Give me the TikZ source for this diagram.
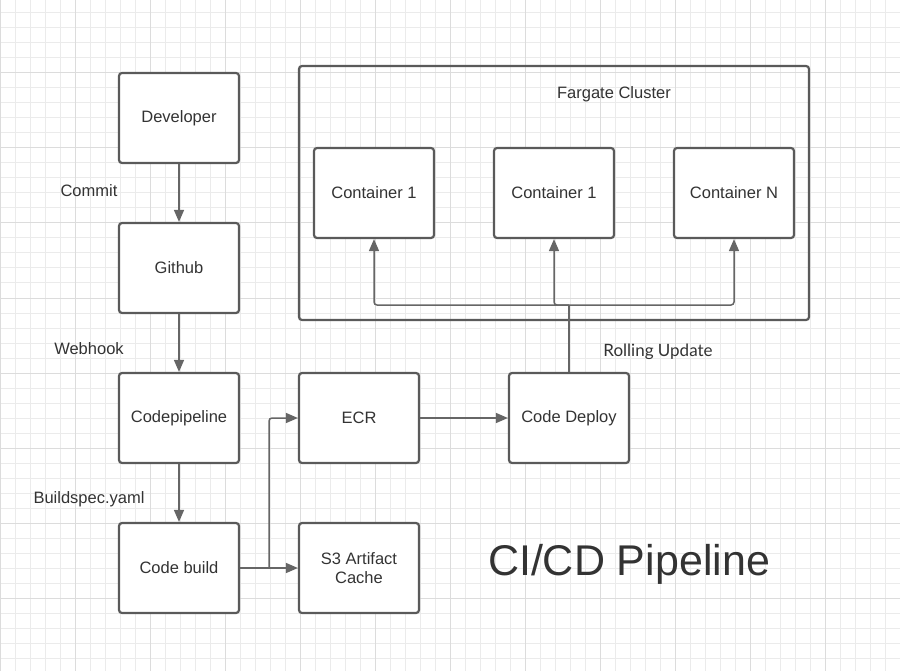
\documentclass[tikz,border=0pt]{standalone}
\usepackage{fontspec}
\setmainfont{Liberation Sans}
\newfontfamily\latofont{Lato}
\usetikzlibrary{positioning, arrows.meta}
\definecolor{boxline}{HTML}{5A5A5A}
\definecolor{arrowline}{HTML}{666666}
\definecolor{textgray}{HTML}{333333}
\definecolor{gridminor}{HTML}{EBEBEB}
\definecolor{gridmajor}{HTML}{DCDCDC}
\tikzset{
  stagebox/.style={draw=boxline, fill=white, line width=2.2pt, rounded corners=3pt,
    minimum width=120pt, minimum height=90pt, inner sep=0pt, align=center,
    text=textgray, font=\fontsize{16.5}{19.5}\selectfont},
  flowlabel/.style={text=textgray, font=\fontsize{16.5}{19.5}\selectfont},
  flow/.style={draw=arrowline, line width=1.5pt, rounded corners=3pt}
}

\begin{document}
\begin{tikzpicture}[x=1pt, y=-1pt, >={Triangle[length=12pt,width=10pt]}]
\useasboundingbox (0,0) rectangle (900,671);
\fill[white] (0,0) rectangle (900,671);
% grid
\foreach \i in {0,15,...,900} \draw[gridminor, line width=1pt] (\i,0) -- (\i,671);
\foreach \j in {13,28,...,671} \draw[gridminor, line width=1pt] (0,\j) -- (900,\j);
\foreach \i in {0,75,...,900} \draw[gridmajor, line width=1pt] (\i,0) -- (\i,671);
\foreach \j in {73,148,...,671} \draw[gridmajor, line width=1pt] (0,\j) -- (900,\j);

% cluster
\draw[boxline, line width=2.2pt, rounded corners=3pt] (299,66) rectangle (809,320);
\node[flowlabel] (cluster) at (614,94) {Fargate Cluster};
\node[stagebox] (cone) at (374,193) {Container 1};
\node[stagebox] (ctwo) at (554,193) {Container 1};
\node[stagebox] (cn) at (734,193) {Container N};

% pipeline
\node[stagebox] (dev) at (179,118) {Developer};
\node[stagebox] (github) at (179,268) {Github};
\node[stagebox] (pipeline) at (179,418) {Codepipeline};
\node[stagebox] (build) at (179,568) {Code build};
\node[stagebox] (ecr) at (359,418) {ECR};
\node[stagebox] (s3) at (359,568) {S3 Artifact\\Cache};
\node[stagebox] (deploy) at (569,418) {Code Deploy};

\node[flowlabel] (commit) at (89,191) {Commit};
\node[flowlabel] (webhook) at (89,349) {Webhook};
\node[flowlabel] (buildspec) at (89,499) {Buildspec.yaml};
\node[text=textgray, font=\latofont\fontsize{17}{20}\selectfont] (rolling) at (658,352) {Rolling Update};
\node[text=textgray, font=\fontsize{43}{50}\selectfont] (title) at (629,564) {CI/CD Pipeline};

\coordinate (split) at (269,568);
\coordinate (hub) at (569,305);

\draw[flow,->] (dev) -- (github);
\draw[flow,->] (github) -- (pipeline);
\draw[flow,->] (pipeline) -- (build);
\draw[flow] (build) -- (split);
\draw[flow,->] (split) |- (ecr);
\draw[flow,->] (split) -- (s3);
\draw[flow,->] (ecr) -- (deploy);
\draw[flow] (deploy) -- (hub);
\draw[flow,->] (hub) -| (cone);
\draw[flow,->] (hub) -| (ctwo);
\draw[flow,->] (hub) -| (cn);

\end{tikzpicture}
\end{document}
